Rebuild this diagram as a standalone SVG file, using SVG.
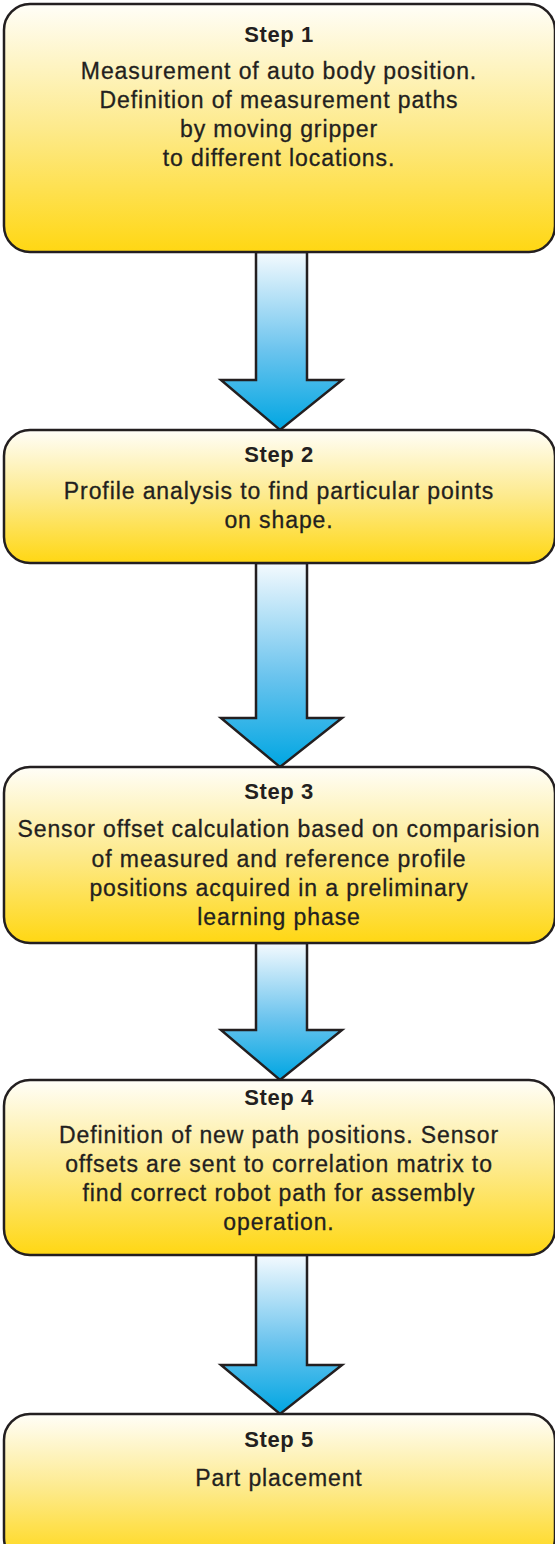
<svg xmlns="http://www.w3.org/2000/svg" width="555" height="1544" viewBox="0 0 555 1544">
  <defs>
    <linearGradient id="boxGrad" x1="0" y1="0" x2="0" y2="1">
      <stop offset="0" stop-color="#fffef8"/>
      <stop offset="0.5" stop-color="#fdea8c"/>
      <stop offset="1" stop-color="#ffd713"/>
    </linearGradient>
    <linearGradient id="arrowGrad" x1="0" y1="0" x2="0" y2="1">
      <stop offset="0" stop-color="#f4fafe"/>
      <stop offset="0.55" stop-color="#6cc4ee"/>
      <stop offset="1" stop-color="#00a6e2"/>
    </linearGradient>
    <style>
      .box { fill: url(#boxGrad); stroke: #231f20; stroke-width: 2.5; }
      .arrow { fill: url(#arrowGrad); stroke: #231f20; stroke-width: 2.5; stroke-linejoin: miter; }
      .title { font-family: "Liberation Sans", Arial, sans-serif; font-weight: bold; font-size: 22px; letter-spacing: 0.6px; fill: #231f20; text-anchor: middle; }
      .body { font-family: "Liberation Sans", Arial, sans-serif; font-size: 23px; letter-spacing: 0.9px; fill: #231f20; stroke: #231f20; stroke-width: 0.3; text-anchor: middle; }
    </style>
  </defs>

  <g id="connectors">
    <path class="arrow" d="M256,252 L307,252 L307,380 L342,380 L280,430 L221,380 L256,380 Z"/>
    <path class="arrow" d="M256,563 L307,563 L307,718 L342,718 L280,767 L221,718 L256,718 Z"/>
    <path class="arrow" d="M256,943 L307,943 L307,1030 L342,1030 L280,1080 L221,1030 L256,1030 Z"/>
    <path class="arrow" d="M256,1255 L307,1255 L307,1365 L342,1365 L280,1414 L221,1365 L256,1365 Z"/>
  </g>

  <g id="step1">
    <rect class="box" x="4" y="4" width="551" height="248" rx="26" ry="26"/>
    <text class="title" x="279" y="42">Step 1</text>
    <text class="body" x="279" y="79">Measurement of auto body position.</text>
    <text class="body" x="279" y="108">Definition of measurement paths</text>
    <text class="body" x="279" y="137">by moving gripper</text>
    <text class="body" x="279" y="166">to different locations.</text>
  </g>

  <g id="step2">
    <rect class="box" x="4" y="430" width="551" height="133" rx="26" ry="26"/>
    <text class="title" x="279" y="462">Step 2</text>
    <text class="body" x="279" y="499">Profile analysis to find particular points</text>
    <text class="body" x="279" y="528">on shape.</text>
  </g>

  <g id="step3">
    <rect class="box" x="4" y="767" width="551" height="176" rx="26" ry="26"/>
    <text class="title" x="279" y="799">Step 3</text>
    <text class="body" x="279" y="837">Sensor offset calculation based on comparision</text>
    <text class="body" x="279" y="867">of measured and reference profile</text>
    <text class="body" x="279" y="896">positions acquired in a preliminary</text>
    <text class="body" x="279" y="925">learning phase</text>
  </g>

  <g id="step4">
    <rect class="box" x="4" y="1080" width="551" height="175" rx="26" ry="26"/>
    <text class="title" x="279" y="1105">Step 4</text>
    <text class="body" x="279" y="1143">Definition of new path positions. Sensor</text>
    <text class="body" x="279" y="1172">offsets are sent to correlation matrix to</text>
    <text class="body" x="279" y="1201">find correct robot path for assembly</text>
    <text class="body" x="279" y="1230">operation.</text>
  </g>

  <g id="step5">
    <rect class="box" x="4" y="1414" width="551" height="150" rx="26" ry="26"/>
    <text class="title" x="279" y="1447">Step 5</text>
    <text class="body" x="279" y="1486">Part placement</text>
  </g>
</svg>
